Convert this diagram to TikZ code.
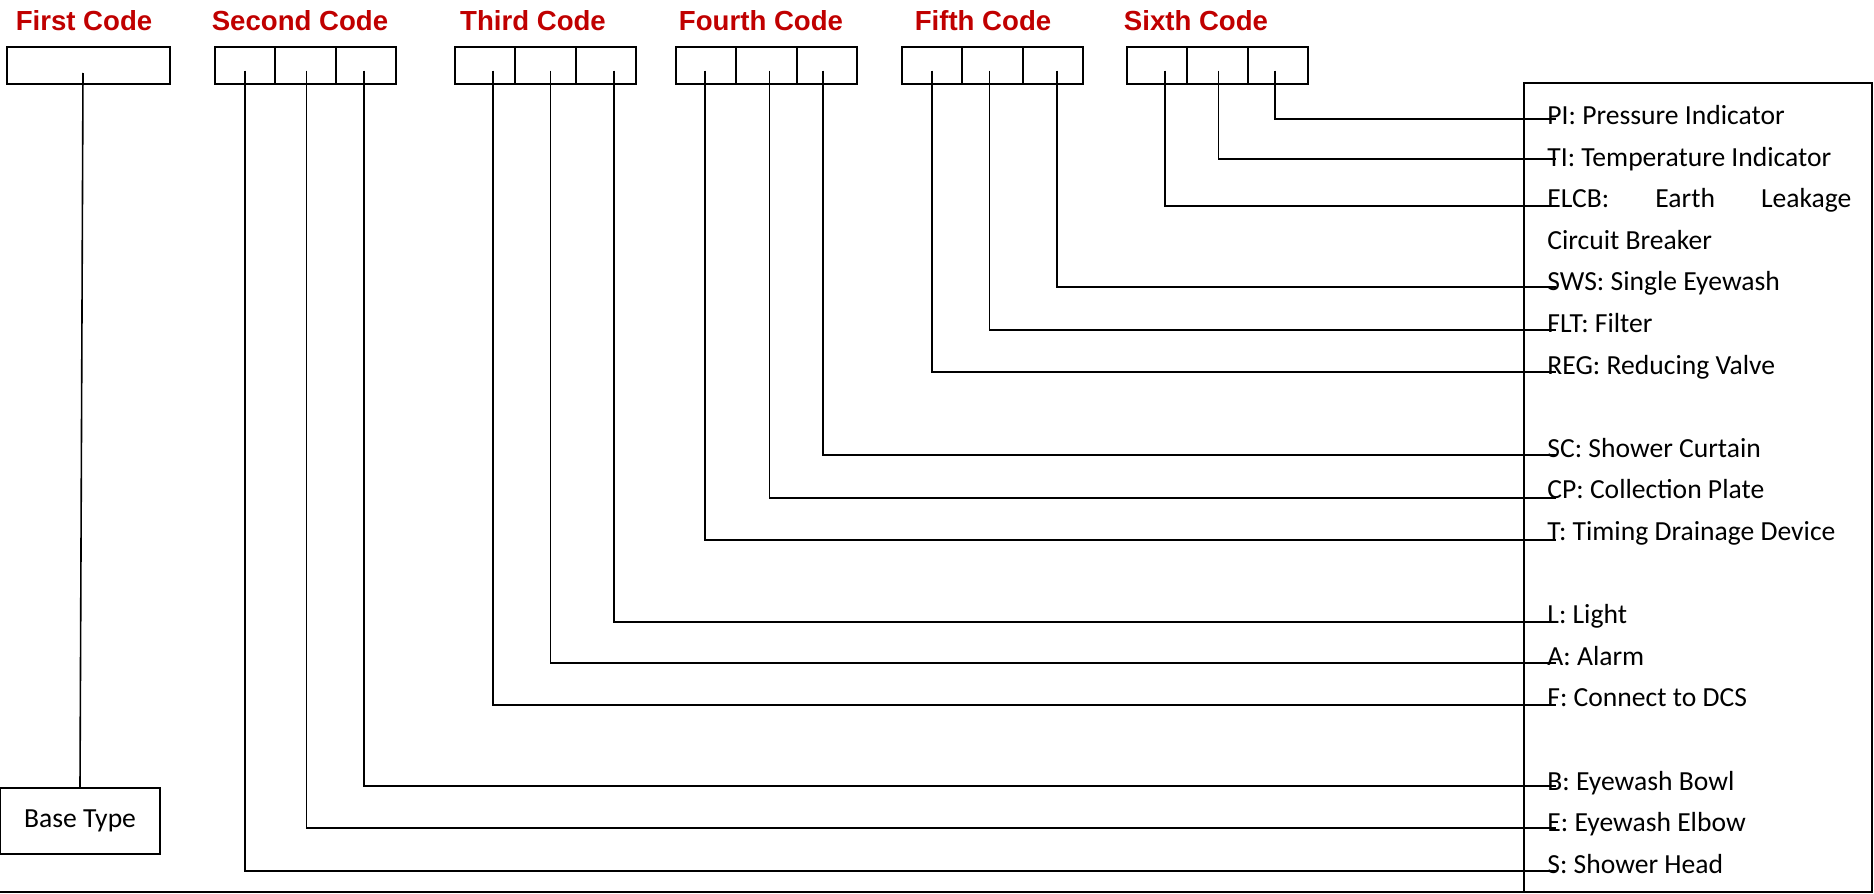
\documentclass[tikz,border=0pt]{standalone}
\usepackage{fontspec}
\setmainfont{Carlito}
\newfontfamily\headfont{Liberation Sans}
\usetikzlibrary{positioning}
\definecolor{codered}{RGB}{192,0,0}
\tikzset{
  cell/.style={draw, line width=1pt, minimum width=30.17pt, minimum height=18.5pt, inner sep=0pt, outer sep=0pt},
  head/.style={font=\headfont\bfseries\fontsize{13.8}{16}\selectfont, text=codered, anchor=base, inner sep=0pt},
  item/.style={font=\fontsize{13.8}{16}\selectfont, anchor=base west, inner sep=0pt},
  wire/.style={line width=0.8pt},
}
\begin{document}
\begin{tikzpicture}[x=0.5pt,y=-0.5pt]
\useasboundingbox (0,0) rectangle (1874,894);
\node[head] (t1) at (84,31) {First Code};
\node[head] (t2) at (300,31) {Second Code};
\node[head] (t3) at (533,31) {Third Code};
\node[head] (t4) at (761,31) {Fourth Code};
\node[head] (t5) at (983,31) {Fifth Code};
\node[head] (t6) at (1196,31) {Sixth Code};
\node[cell, minimum width=81.5pt] (c1) at (88.5,65.5) {};
\foreach \g/\x in {2/215,3/455,4/676,5/902,6/1127} {
  \node[cell, anchor=west] (c\g-1) at (\x,65.5) {};
  \node[cell, right=0pt of c\g-1] (c\g-2) {};
  \node[cell, right=0pt of c\g-2] (c\g-3) {};
}
\node[cell, minimum width=80pt, minimum height=33pt, font=\fontsize{13.8}{16}\selectfont] (base) at (80,821) {Base Type};
\node[draw, line width=1pt, minimum width=174pt, minimum height=404.75pt, inner sep=0pt, outer sep=0pt] (frame) at (1698,487.25) {};
\draw[line width=1pt] (0,892) -- (frame.south west);
\foreach \k/\n/\t in {0/pi/{PI: Pressure Indicator}, 1/ti/{TI: Temperature Indicator},
    2/elcb/{\makebox[152pt][s]{ELCB: Earth Leakage}}, 3/cb/{Circuit Breaker},
    4/sws/{SWS: Single Eyewash}, 5/flt/{FLT: Filter}, 6/reg/{REG: Reducing Valve},
    8/sc/{SC: Shower Curtain}, 9/cp/{CP: Collection Plate}, 10/td/{T: Timing Drainage Device},
    12/l/{L: Light}, 13/a/{A: Alarm}, 14/f/{F: Connect to DCS},
    16/b/{B: Eyewash Bowl}, 17/e/{E: Eyewash Elbow}, 18/s/{S: Shower Head}}
  \node[item] (\n) at (1547,{124.5+41.6*\k}) {\t};
\foreach \n/\y in {pi/119, ti/159, elcb/206, sws/287, flt/330, reg/372, sc/455, cp/498, td/540,
    l/622, a/663, f/705, b/786, e/828, s/871}
  \coordinate (\n-e) at (1556,\y);
\coordinate (c1-s) at (83,73);
\draw[wire] (c1-s) -- (base.north);
\foreach \c/\n/\dx in {c6-3/pi/-3, c6-2/ti/1, c6-1/elcb/8, c5-3/sws/4, c5-2/flt/-3, c5-1/reg/0,
    c4-3/sc/-4, c4-2/cp/3, c4-1/td/-1, c3-3/l/8, c3-2/a/5, c3-1/f/8, c2-3/b/-2, c2-2/e/1, c2-1/s/0}
  \draw[wire] (\c.center) ++(\dx,5) |- (\n-e);
\end{tikzpicture}
\end{document}
